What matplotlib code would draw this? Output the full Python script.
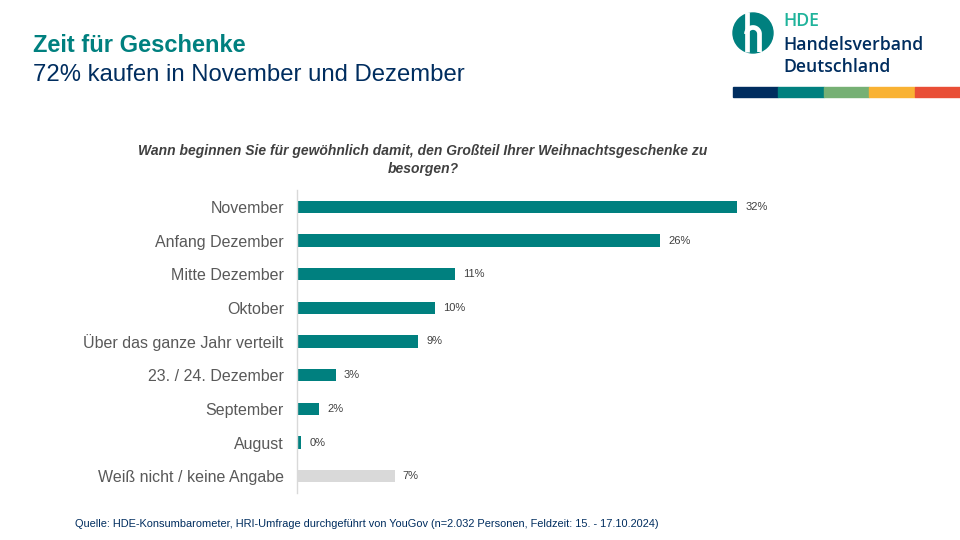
import numpy as np
import matplotlib.pyplot as plt
from matplotlib.patches import Circle, Rectangle

# Daten
kategorien = ["November", "Anfang Dezember", "Mitte Dezember", "Oktober",
              "Über das ganze Jahr verteilt", "23. / 24. Dezember", "September",
              "August", "Weiß nicht / keine Angabe"]
werte = [32.0, 26.4, 11.5, 10.0, 8.8, 2.8, 1.6, 0.3, 7.1]
etiketten = ["32%", "26%", "11%", "10%", "9%", "3%", "2%", "0%", "7%"]

TEAL = "#00807f"
NAVY = "#002d5f"
GRAU = "#d9d9d9"

plt.rcParams['font.family'] = ['Liberation Sans', 'DejaVu Sans']

fig = plt.figure(figsize=(9.6, 5.4), dpi=100)
W, H = 960, 540

def fx(x):
    return x / W

def fy(y):
    return 1 - y / H

# Titel
fig.text(fx(33), fy(45), "Zeit für Geschenke", fontsize=17, fontweight='bold',
         color=TEAL, va='center', ha='left')
fig.text(fx(33), fy(75), "72% kaufen in November und Dezember", fontsize=17.2,
         color=NAVY, va='center', ha='left')

# Logo (eigene Achse in Pixelkoordinaten)
lax = fig.add_axes([fx(730), fy(56), 46 / W, 46 / H])
lax.set_xlim(730, 776)
lax.set_ylim(56, 10)
lax.axis('off')
lax.add_patch(Circle((753, 33), 20, color=TEAL))
t = np.linspace(np.pi, 0, 40)
lax.plot([746.5, 746.5], [12, 52], color='white', lw=3.4, solid_capstyle='butt')
lax.plot(list(753 + 6.5 * np.cos(t)) + [759.5], list(34 - 6.5 * np.sin(t)) + [52],
         color='white', lw=3.4, solid_capstyle='butt')

logo_font = ['Open Sans', 'DejaVu Sans']
fig.text(fx(783), fy(21), "HDE", fontsize=12.7, color="#1fb39b", va='center', ha='left',
         family=logo_font, fontweight='semibold')
fig.text(fx(783), fy(45), "Handelsverband", fontsize=12.7, color=NAVY, va='center',
         ha='left', family=logo_font, fontweight='semibold')
fig.text(fx(783), fy(67), "Deutschland", fontsize=12.7, color=NAVY, va='center',
         ha='left', family=logo_font, fontweight='semibold')

farben_leiste = [NAVY, TEAL, "#76b074", "#f9b233", "#e94e36"]
for i, c in enumerate(farben_leiste):
    fig.patches.append(Rectangle((fx(733 + i * 45.4), fy(97)), 45.4 / W, 10 / H,
                                 transform=fig.transFigure, color=c))

# Frage
fig.text(fx(423), fy(160),
         "Wann beginnen Sie für gewöhnlich damit, den Großteil Ihrer Weihnachtsgeschenke zu\nbesorgen?",
         fontsize=10, fontstyle='italic', fontweight='bold', color="#404040",
         ha='center', va='center', linespacing=1.3)

# Balkendiagramm
ax = fig.add_axes([fx(297), fy(493), 560 / W, 303 / H])
y = np.arange(len(kategorien))
farben = [TEAL] * (len(kategorien) - 1) + [GRAU]
ax.barh(y, werte, height=0.36, color=farben)
for yi, v, lab in zip(y, werte, etiketten):
    ax.text(v + 0.6, yi, lab, va='center', ha='left', fontsize=8, color="#404040")
ax.set_xlim(0, 560 / 13.75)
ax.set_ylim(len(kategorien) - 0.5, -0.5)
ax.set_yticks(y)
ax.set_yticklabels(kategorien, fontsize=11.5, color="#595959")
ax.tick_params(axis='y', length=0, pad=9.5)
ax.set_xticks([])
for s in ['top', 'right', 'bottom']:
    ax.spines[s].set_visible(False)
ax.spines['left'].set_color(GRAU)
ax.spines['left'].set_linewidth(1)

# Quelle
fig.text(fx(75), fy(524),
         "Quelle: HDE-Konsumbarometer, HRI-Umfrage durchgeführt von YouGov (n=2.032 Personen, Feldzeit: 15. - 17.10.2024)",
         fontsize=7.9, color=NAVY, ha='left', va='center')

fig.savefig("out.png", dpi=100)
